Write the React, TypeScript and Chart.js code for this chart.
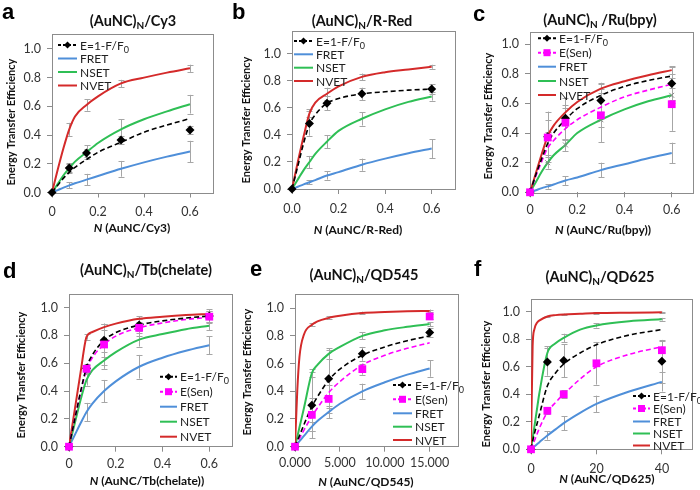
import React, { useEffect, useRef } from "react";
import { Chart, registerables } from "chart.js";
Chart.register(...registerables);

const W = 700;
const H = 490;
const FONT = "Lato, 'Open Sans', sans-serif";
const C_FRET = "#4f8fd9";
const C_NSET = "#2fbf55";
const C_NVET = "#d42a2a";
const C_MAG = "#ff00ff";
const C_BAR = "#a6a6a6";
const C_AXIS = "#8c8c8c";
const Y_AXIS_W = 40;
const X_AXIS_H = 30;

const yTickValues = [0, 0.2, 0.4, 0.6, 0.8, 1.0];
const yTickLabels = ["0.0", "0.2", "0.4", "0.6", "0.8", "1.0"];

// ---------- panel a : (AuNC)N/Cy3 ----------
const aCurveX = [0, 0.025, 0.05, 0.075, 0.1, 0.15, 0.2, 0.3, 0.4, 0.5, 0.6];
const aFret = [0, 0.017, 0.034, 0.05, 0.064, 0.09, 0.115, 0.165, 0.21, 0.25, 0.285];
const aNset = [0, 0.06, 0.12, 0.17, 0.215, 0.28, 0.345, 0.44, 0.51, 0.565, 0.615];
const aNvet = [0, 0.16, 0.31, 0.44, 0.53, 0.61, 0.67, 0.76, 0.8, 0.835, 0.865];
const aEFit = [0, 0.05, 0.1, 0.14, 0.175, 0.23, 0.28, 0.35, 0.42, 0.47, 0.515];
const aBarX = [0.075, 0.15, 0.3, 0.6];
const aFretErr = [0.02, 0.04, 0.055, 0.075];
const aNsetErr = [0.035, 0.05, 0.07, 0.065];
const aNvetErr = [0.045, 0.04, 0.025, 0.025];
const aEX = [0, 0.075, 0.15, 0.3, 0.6];
const aEY = [0, 0.17, 0.275, 0.365, 0.435];
const aEErr = [0, 0.03, 0.03, 0.03, 0.03];
const aXTicks = [0, 0.2, 0.4, 0.6];
const aXTickLabels = ["0", "0.2", "0.4", "0.6"];

// ---------- panel b : (AuNC)N/R-Red ----------
const bCurveX = [0, 0.025, 0.05, 0.075, 0.1, 0.15, 0.2, 0.3, 0.4, 0.5, 0.6];
const bFret = [0, 0.017, 0.034, 0.05, 0.066, 0.1, 0.125, 0.18, 0.225, 0.265, 0.3];
const bNset = [0, 0.07, 0.14, 0.2, 0.26, 0.35, 0.43, 0.52, 0.59, 0.645, 0.685];
const bNvet = [0, 0.2, 0.39, 0.56, 0.64, 0.705, 0.76, 0.83, 0.865, 0.885, 0.905];
const bEFit = [0, 0.17, 0.34, 0.48, 0.55, 0.635, 0.67, 0.705, 0.72, 0.732, 0.74];
const bBarX = [0.075, 0.15, 0.3, 0.6];
const bFretErr = [0.015, 0.03, 0.045, 0.07];
const bNsetErr = [0.045, 0.05, 0.05, 0.03];
const bNvetErr = [0.03, 0.045, 0.025, 0.015];
const bEX = [0, 0.075, 0.15, 0.3, 0.6];
const bEY = [0, 0.485, 0.635, 0.705, 0.74];
const bEErr = [0, 0.09, 0.05, 0.045, 0.035];
const bXTicks = [0, 0.2, 0.4, 0.6];
const bXTickLabels = ["0.0", "0.2", "0.4", "0.6"];

// ---------- panel c : (AuNC)N/Ru(bpy) ----------
const cCurveX = [0, 0.025, 0.05, 0.075, 0.1, 0.15, 0.2, 0.3, 0.4, 0.5, 0.6];
const cFret = [0, 0.014, 0.028, 0.04, 0.053, 0.08, 0.1, 0.15, 0.19, 0.23, 0.265];
const cNset = [0, 0.07, 0.14, 0.2, 0.25, 0.32, 0.4, 0.49, 0.56, 0.615, 0.655];
const cNvet = [0, 0.13, 0.26, 0.38, 0.45, 0.54, 0.61, 0.7, 0.75, 0.79, 0.825];
const cEFit = [0, 0.12, 0.23, 0.33, 0.4, 0.49, 0.565, 0.655, 0.715, 0.755, 0.785];
const cSenFit = [0, 0.11, 0.21, 0.3, 0.35, 0.43, 0.49, 0.575, 0.645, 0.69, 0.73];
const cBarX = [0.075, 0.15, 0.3, 0.6];
const cFretErr = [0.015, 0.03, 0.05, 0.07];
const cNsetErr = [0.04, 0.04, 0.05, 0.05];
const cNvetErr = [0.03, 0.03, 0.03, 0.025];
const cEX = [0, 0.075, 0.15, 0.3, 0.6];
const cEY = [0, 0.375, 0.5, 0.62, 0.735];
const cEErr = [0, 0.17, 0.14, 0.12, 0.11];
const cSenX = [0, 0.075, 0.15, 0.3, 0.6];
const cSenY = [0, 0.37, 0.47, 0.52, 0.595];
const cSenErr = [0, 0.12, 0.12, 0.18, 0.18];
const cXTicks = [0, 0.2, 0.4, 0.6];
const cXTickLabels = ["0", "0.2", "0.4", "0.6"];

// ---------- panel d : (AuNC)N/Tb(chelate) ----------
const dCurveX = [0, 0.025, 0.05, 0.075, 0.1, 0.15, 0.2, 0.3, 0.4, 0.5, 0.6];
const dFret = [0, 0.085, 0.17, 0.25, 0.31, 0.4, 0.47, 0.575, 0.64, 0.69, 0.73];
const dNset = [0, 0.17, 0.34, 0.48, 0.55, 0.62, 0.68, 0.77, 0.81, 0.845, 0.87];
const dNvet = [0, 0.27, 0.54, 0.79, 0.825, 0.86, 0.885, 0.92, 0.935, 0.947, 0.955];
const dEFit = [0, 0.2, 0.4, 0.57, 0.66, 0.765, 0.82, 0.875, 0.905, 0.925, 0.94];
const dSenFit = [0, 0.2, 0.39, 0.555, 0.64, 0.735, 0.795, 0.855, 0.89, 0.915, 0.93];
const dBarX = [0.075, 0.15, 0.3, 0.6];
const dFretErr = [0.065, 0.08, 0.085, 0.065];
const dNsetErr = [0.04, 0.06, 0.05, 0.03];
const dNvetErr = [0.02, 0.02, 0.02, 0.02];
const dEX = [0, 0.075, 0.15, 0.3, 0.6];
const dEY = [0, 0.565, 0.765, 0.875, 0.94];
const dEErr = [0, 0.03, 0.12, 0.04, 0.05];
const dSenX = [0, 0.075, 0.15, 0.3, 0.6];
const dSenY = [0, 0.56, 0.735, 0.855, 0.935];
const dSenErr = [0, 0.03, 0.15, 0.06, 0.04];
const dXTicks = [0, 0.2, 0.4, 0.6];
const dXTickLabels = ["0", "0.2", "0.4", "0.6"];

// ---------- panel e : (AuNC)N/QD545 ----------
const eCurveX = [0, 0.25, 0.5, 1, 1.875, 2.5, 3.75, 5, 7.5, 10, 12.5, 15];
const eFret = [0, 0.02, 0.04, 0.078, 0.145, 0.185, 0.25, 0.31, 0.4, 0.465, 0.52, 0.565];
const eNset = [0, 0.07, 0.14, 0.28, 0.53, 0.59, 0.67, 0.72, 0.8, 0.84, 0.865, 0.885];
const eNvet = [0, 0.4, 0.65, 0.81, 0.88, 0.905, 0.93, 0.945, 0.965, 0.972, 0.977, 0.98];
const eEFit = [0, 0.04, 0.08, 0.16, 0.29, 0.36, 0.48, 0.56, 0.66, 0.72, 0.765, 0.8];
const eSenFit = [0, 0.03, 0.06, 0.12, 0.22, 0.28, 0.39, 0.47, 0.59, 0.66, 0.71, 0.75];
const eBarX = [1.875, 3.75, 7.5, 15];
const eFretErr = [0.03, 0.045, 0.055, 0.06];
const eNsetErr = [0.03, 0.04, 0.025, 0.015];
const eNvetErr = [0.01, 0.01, 0.01, 0.01];
const eEX = [0, 1.875, 3.75, 7.5, 15];
const eEY = [0, 0.3, 0.49, 0.67, 0.825];
const eEErr = [0, 0.24, 0.21, 0.05, 0.03];
const eSenX = [0, 1.875, 3.75, 7.5, 15];
const eSenY = [0, 0.23, 0.345, 0.56, 0.94];
const eSenErr = [0, 0.12, 0.1, 0.04, 0.02];
const eXTicks = [0, 5, 10, 15];
const eXTickLabels = ["0.000", "5.000", "10.000", "15.000"];

// ---------- panel f : (AuNC)N/QD625 ----------
const fCurveX = [0, 0.5, 1, 2, 2.5, 5, 7.5, 10, 15, 20, 30, 40];
const fFret = [0, 0.01, 0.02, 0.04, 0.05, 0.1, 0.145, 0.19, 0.265, 0.33, 0.42, 0.49];
const fNset = [0, 0.08, 0.16, 0.32, 0.4, 0.7, 0.77, 0.81, 0.87, 0.9, 0.93, 0.945];
const fNvet = [0, 0.75, 0.87, 0.925, 0.935, 0.965, 0.975, 0.98, 0.985, 0.99, 0.993, 0.995];
const fEFit = [0, 0.06, 0.11, 0.2, 0.245, 0.46, 0.555, 0.62, 0.7, 0.76, 0.83, 0.87];
const fSenFit = [0, 0.03, 0.06, 0.12, 0.15, 0.27, 0.34, 0.4, 0.51, 0.6, 0.69, 0.745];
const fBarX = [5, 10, 20, 40];
const fFretErr = [0.03, 0.05, 0.06, 0.07];
const fNsetErr = [0.05, 0.03, 0.015, 0.01];
const fNvetErr = [0.005, 0.005, 0.005, 0.005];
const fEX = [0, 5, 10, 40];
const fEY = [0, 0.635, 0.645, 0.64];
const fEErr = [0, 0.1, 0.12, 0.155];
const fSenX = [0, 5, 10, 20, 40];
const fSenY = [0, 0.28, 0.4, 0.625, 0.72];
const fSenErr = [0, 0.02, 0.03, 0.155, 0.07];
const fXTicks = [0, 20, 40];
const fXTickLabels = ["0", "20", "40"];

interface PanelDef {
  letter: string;
  letterPos: [number, number];
  titleParts: [string, string, string];
  titlePos: [number, number];
  xTitle: string;
  xTitlePos: [number, number];
  yTitlePos: [number, number];
  box: [number, number, number, number];
  xMax: number;
  yMax: number;
  xTicks: number[];
  xTickLabels: string[];
  xLabelCenter: number;
  curveX: number[];
  fret: number[];
  nset: number[];
  nvet: number[];
  eFit: number[];
  senFit?: number[];
  barX: number[];
  fretErr: number[];
  nsetErr: number[];
  nvetErr: number[];
  eX: number[];
  eY: number[];
  eErr: number[];
  senX?: number[];
  senY?: number[];
  senErr?: number[];
  nsetMarks?: boolean;
  legend: { x0: number; x1: number; tx: number; rows: number[] };
}

const PANELS: PanelDef[] = [
  {
    letter: "a", letterPos: [2, 19], titleParts: ["(AuNC)", "N", "/Cy3"], titlePos: [133, 26],
    xTitle: " (AuNC/Cy3)", xTitlePos: [132, 232], yTitlePos: [11, 122],
    box: [52, 34, 213, 192.5], xMax: 0.7, yMax: 1.104,
    xTicks: aXTicks, xTickLabels: aXTickLabels, xLabelCenter: 211.5,
    curveX: aCurveX, fret: aFret, nset: aNset, nvet: aNvet, eFit: aEFit,
    barX: aBarX, fretErr: aFretErr, nsetErr: aNsetErr, nvetErr: aNvetErr,
    eX: aEX, eY: aEY, eErr: aEErr,
    legend: { x0: 58, x1: 77, tx: 80, rows: [45, 58.5, 72, 85.5] },
  },
  {
    letter: "b", letterPos: [232, 19], titleParts: ["(AuNC)", "N", "/R-Red"], titlePos: [362, 26],
    xTitle: " (AuNC/R-Red)", xTitlePos: [358, 234], yTitlePos: [246, 120],
    box: [292, 31, 455, 189], xMax: 0.7, yMax: 1.17,
    xTicks: bXTicks, xTickLabels: bXTickLabels, xLabelCenter: 208,
    curveX: bCurveX, fret: bFret, nset: bNset, nvet: bNvet, eFit: bEFit,
    barX: bBarX, fretErr: bFretErr, nsetErr: bNsetErr, nvetErr: bNvetErr,
    eX: bEX, eY: bEY, eErr: bEErr,
    legend: { x0: 294, x1: 313, tx: 316, rows: [41, 54.3, 67.7, 81] },
  },
  {
    letter: "c", letterPos: [473, 21], titleParts: ["(AuNC)", "N", " /Ru(bpy)"], titlePos: [600, 25],
    xTitle: " (AuNC/Ru(bpy))", xTitlePos: [603, 234], yTitlePos: [488, 116],
    box: [530, 31.5, 693, 192.3], xMax: 0.69, yMax: 1.086,
    xTicks: cXTicks, xTickLabels: cXTickLabels, xLabelCenter: 209,
    curveX: cCurveX, fret: cFret, nset: cNset, nvet: cNvet, eFit: cEFit, senFit: cSenFit,
    barX: cBarX, fretErr: cFretErr, nsetErr: cNsetErr, nvetErr: cNvetErr,
    eX: cEX, eY: cEY, eErr: cEErr, senX: cSenX, senY: cSenY, senErr: cSenErr,
    nsetMarks: true,
    legend: { x0: 538, x1: 556, tx: 559, rows: [38.3, 52.7, 66.7, 81, 95] },
  },
  {
    letter: "d", letterPos: [3, 278], titleParts: ["(AuNC)", "N", "/Tb(chelate)"], titlePos: [146, 275],
    xTitle: " (AuNC/Tb(chelate))", xTitlePos: [147, 485], yTitlePos: [21, 375],
    box: [69, 294.3, 231.5, 446.7], xMax: 0.695, yMax: 1.096,
    xTicks: dXTicks, xTickLabels: dXTickLabels, xLabelCenter: 463,
    curveX: dCurveX, fret: dFret, nset: dNset, nvet: dNvet, eFit: dEFit, senFit: dSenFit,
    barX: dBarX, fretErr: dFretErr, nsetErr: dNsetErr, nvetErr: dNvetErr,
    eX: dEX, eY: dEY, eErr: dEErr, senX: dSenX, senY: dSenY, senErr: dSenErr,
    legend: { x0: 160, x1: 177, tx: 180, rows: [376.7, 391.7, 406.7, 421.7, 436.7] },
  },
  {
    letter: "e", letterPos: [250, 276], titleParts: ["(AuNC)", "N", "/QD545"], titlePos: [364, 280],
    xTitle: " (AuNC/QD545)", xTitlePos: [366, 486], yTitlePos: [247, 372],
    box: [295, 294.3, 457.5, 446.7], xMax: 18.1, yMax: 1.1,
    xTicks: eXTicks, xTickLabels: eXTickLabels, xLabelCenter: 462,
    curveX: eCurveX, fret: eFret, nset: eNset, nvet: eNvet, eFit: eEFit, senFit: eSenFit,
    barX: eBarX, fretErr: eFretErr, nsetErr: eNsetErr, nvetErr: eNvetErr,
    eX: eEX, eY: eEY, eErr: eEErr, senX: eSenX, senY: eSenY, senErr: eSenErr,
    legend: { x0: 393, x1: 412, tx: 415, rows: [385, 399.3, 413.3, 426.7, 440] },
  },
  {
    letter: "f", letterPos: [474, 276], titleParts: ["(AuNC)", "N", "/QD625"], titlePos: [600, 282],
    xTitle: " (AuNC/QD625)", xTitlePos: [607, 483], yTitlePos: [486, 384],
    box: [531, 299.3, 692, 449.3], xMax: 49.2, yMax: 1.09,
    xTicks: fXTicks, xTickLabels: fXTickLabels, xLabelCenter: 468,
    curveX: fCurveX, fret: fFret, nset: fNset, nvet: fNvet, eFit: fEFit, senFit: fSenFit,
    barX: fBarX, fretErr: fFretErr, nsetErr: fNsetErr, nvetErr: fNvetErr,
    eX: fEX, eY: fEY, eErr: fEErr, senX: fSenX, senY: fSenY, senErr: fSenErr,
    legend: { x0: 633, x1: 650, tx: 653, rows: [396, 408.5, 421.5, 433.5, 445.5] },
  },
];

type Part = { t: string; font: string; dy?: number };

function drawParts(ctx: CanvasRenderingContext2D, parts: Part[], x: number, y: number, center: boolean) {
  let total = 0;
  parts.forEach((p) => {
    ctx.font = p.font;
    total += ctx.measureText(p.t).width;
  });
  let cx = center ? x - total / 2 : x;
  ctx.textAlign = "left";
  ctx.textBaseline = "alphabetic";
  parts.forEach((p) => {
    ctx.font = p.font;
    ctx.fillText(p.t, cx, y + (p.dy || 0));
    cx += ctx.measureText(p.t).width;
  });
}

function drawDiamond(ctx: CanvasRenderingContext2D, x: number, y: number, r: number, color: string) {
  ctx.beginPath();
  ctx.moveTo(x, y - r);
  ctx.lineTo(x + r, y);
  ctx.lineTo(x, y + r);
  ctx.lineTo(x - r, y);
  ctx.closePath();
  ctx.fillStyle = color;
  ctx.fill();
}

function makePlugin(p: PanelDef) {
  return {
    id: "panelDeco" + p.letter,
    beforeDatasetsDraw(chart: any) {
      const { ctx, chartArea: ca, scales } = chart;
      const xs = scales.x;
      const ys = scales.y;
      ctx.save();
      ctx.strokeStyle = C_AXIS;
      ctx.lineWidth = 1;
      ctx.strokeRect(Math.round(ca.left) + 0.5, Math.round(ca.top) + 0.5, Math.round(ca.right - ca.left), Math.round(ca.bottom - ca.top));
      const bar = (x: number, c: number, e: number) => {
        if (!(e > 0)) return;
        const px = Math.round(xs.getPixelForValue(x)) + 0.5;
        const y1 = ys.getPixelForValue(c + e);
        const y2 = ys.getPixelForValue(c - e);
        ctx.strokeStyle = C_BAR;
        ctx.lineWidth = 1;
        ctx.beginPath();
        ctx.moveTo(px, y1);
        ctx.lineTo(px, y2);
        ctx.moveTo(px - 3, Math.round(y1) + 0.5);
        ctx.lineTo(px + 3, Math.round(y1) + 0.5);
        ctx.moveTo(px - 3, Math.round(y2) + 0.5);
        ctx.lineTo(px + 3, Math.round(y2) + 0.5);
        ctx.stroke();
      };
      p.barX.forEach((bx, i) => {
        const k = p.curveX.indexOf(bx);
        bar(bx, p.fret[k], p.fretErr[i]);
        bar(bx, p.nset[k], p.nsetErr[i]);
        bar(bx, p.nvet[k], p.nvetErr[i]);
      });
      p.eX.forEach((x, i) => bar(x, p.eY[i], p.eErr[i]));
      if (p.senX && p.senY && p.senErr) {
        const sy = p.senY;
        const se = p.senErr;
        p.senX.forEach((x, i) => bar(x, sy[i], se[i]));
      }
      ctx.restore();
    },
    afterDraw(chart: any) {
      const ctx: CanvasRenderingContext2D = chart.ctx;
      ctx.save();
      ctx.fillStyle = "#000";
      ctx.font = "bold 22px 'Liberation Sans', Arial, sans-serif";
      ctx.textAlign = "left";
      ctx.textBaseline = "alphabetic";
      ctx.fillText(p.letter, p.letterPos[0], p.letterPos[1]);
      ctx.fillStyle = "#111";
      drawParts(
        ctx,
        [
          { t: p.titleParts[0], font: `bold 14.5px ${FONT}` },
          { t: p.titleParts[1], font: `bold 10px ${FONT}`, dy: 3 },
          { t: p.titleParts[2], font: `bold 14.5px ${FONT}` },
        ],
        p.titlePos[0], p.titlePos[1], true
      );
      drawParts(
        ctx,
        [
          { t: "N", font: `italic bold 12px ${FONT}` },
          { t: p.xTitle, font: `bold 12px ${FONT}` },
        ],
        p.xTitlePos[0], p.xTitlePos[1], true
      );
      ctx.save();
      ctx.translate(p.yTitlePos[0], p.yTitlePos[1]);
      ctx.rotate(-Math.PI / 2);
      ctx.font = `bold 11px ${FONT}`;
      ctx.textAlign = "center";
      ctx.textBaseline = "middle";
      ctx.fillText("Energy Transfer Efficiency", 0, 0);
      ctx.restore();
      const items: { parts: Part[]; color: string; dash: number[]; marker?: "diamond" | "square" }[] = [];
      const lf = `12px ${FONT}`;
      items.push({ parts: [{ t: "E=1-F/F", font: lf }, { t: "0", font: `9px ${FONT}`, dy: 3 }], color: "#000", dash: [3, 2], marker: "diamond" });
      if (p.senFit) items.push({ parts: [{ t: "E(Sen)", font: lf }], color: C_MAG, dash: [3, 2], marker: "square" });
      items.push({ parts: [{ t: "FRET", font: lf }], color: C_FRET, dash: [] });
      items.push({ parts: [{ t: "NSET", font: lf }], color: C_NSET, dash: [] });
      items.push({ parts: [{ t: "NVET", font: lf }], color: C_NVET, dash: [] });
      const L = p.legend;
      items.forEach((it, i) => {
        const y = L.rows[i];
        ctx.strokeStyle = it.color;
        ctx.lineWidth = 2;
        ctx.setLineDash(it.dash);
        ctx.beginPath();
        ctx.moveTo(L.x0, y);
        ctx.lineTo(L.x1, y);
        ctx.stroke();
        ctx.setLineDash([]);
        const mx = (L.x0 + L.x1) / 2;
        if (it.marker === "diamond") drawDiamond(ctx, mx, y, 3.5, "#000");
        if (it.marker === "square") {
          ctx.fillStyle = C_MAG;
          ctx.fillRect(mx - 3.5, y - 3.5, 7, 7);
        }
        ctx.fillStyle = "#222";
        drawParts(ctx, it.parts, L.tx, y + 4.5, false);
      });
      ctx.restore();
    },
  };
}

function buildConfig(p: PanelDef): any {
  const pts = (xs: number[], ys: number[]) => xs.map((x, i) => ({ x, y: ys[i] }));
  const line = (data: { x: number; y: number }[], color: string, dash: number[] = [], width = 2) => ({
    data,
    borderColor: color,
    borderWidth: width,
    borderDash: dash,
    pointRadius: 0,
    fill: false,
    cubicInterpolationMode: "monotone",
    showLine: true,
  });
  const datasets: any[] = [];
  if (p.senX && p.senY) {
    datasets.push({
      data: pts(p.senX, p.senY), showLine: false, pointStyle: "rect", pointRadius: 5.5,
      pointBackgroundColor: C_MAG, pointBorderColor: C_MAG, pointBorderWidth: 0, clip: false,
    });
  }
  datasets.push({
    data: pts(p.eX, p.eY), showLine: false, pointStyle: "rectRot", pointRadius: 4.5,
    pointBackgroundColor: "#000", pointBorderColor: "#000", pointBorderWidth: 0, clip: false,
  });
  if (p.nsetMarks) {
    datasets.push({
      data: p.barX.map((bx) => ({ x: bx, y: p.nset[p.curveX.indexOf(bx)] })), showLine: false,
      pointStyle: "crossRot", pointRadius: 3.5, pointBorderColor: "#8a8a8a", pointBorderWidth: 1, clip: false,
    });
  }
  datasets.push(line(pts(p.curveX, p.eFit), "#000", [5, 3], 1.6));
  if (p.senFit) datasets.push(line(pts(p.curveX, p.senFit), C_MAG, [5, 3], 1.6));
  datasets.push(line(pts(p.curveX, p.nvet), C_NVET));
  datasets.push(line(pts(p.curveX, p.nset), C_NSET));
  datasets.push(line(pts(p.curveX, p.fret), C_FRET));

  const [L, T, R, B] = p.box;
  const xPad = Math.max(0, p.xLabelCenter - B - 5 - 7);
  return {
    type: "line",
    data: { datasets },
    plugins: [makePlugin(p)],
    options: {
      responsive: false,
      animation: false,
      devicePixelRatio: 1,
      events: [],
      layout: { padding: { left: L - Y_AXIS_W, top: T, right: W - R, bottom: H - B - X_AXIS_H } },
      plugins: { legend: { display: false }, tooltip: { enabled: false }, title: { display: false } },
      scales: {
        x: {
          type: "linear",
          min: 0,
          max: p.xMax,
          afterFit: (s: any) => { s.height = X_AXIS_H; },
          afterBuildTicks: (s: any) => { s.ticks = p.xTicks.map((v) => ({ value: v })); },
          ticks: {
            callback: (_v: any, i: number) => p.xTickLabels[i],
            font: { family: FONT, size: 12.5 },
            color: "#333",
            padding: xPad,
            maxRotation: 0,
            autoSkip: false,
          },
          grid: { display: true, drawOnChartArea: false, drawTicks: true, tickLength: 5, color: C_AXIS },
          border: { display: false },
        },
        y: {
          type: "linear",
          min: 0,
          max: p.yMax,
          afterFit: (s: any) => { s.width = Y_AXIS_W; },
          afterBuildTicks: (s: any) => { s.ticks = yTickValues.map((v) => ({ value: v })); },
          ticks: {
            callback: (_v: any, i: number) => yTickLabels[i],
            font: { family: FONT, size: 12.5 },
            color: "#333",
            padding: 6,
            autoSkip: false,
          },
          grid: { display: true, drawOnChartArea: false, drawTicks: true, tickLength: 5, color: C_AXIS },
          border: { display: false },
        },
      },
    },
  };
}

function PanelCanvas({ p }: { p: PanelDef }) {
  const ref = useRef<HTMLCanvasElement | null>(null);
  useEffect(() => {
    if (!ref.current) return;
    const chart = new Chart(ref.current, buildConfig(p));
    return () => chart.destroy();
  }, [p]);
  return (
    <canvas
      ref={ref}
      width={W}
      height={H}
      style={{ position: "absolute", left: 0, top: 0, width: W, height: H }}
    />
  );
}

export default function App() {
  return (
    <div style={{ position: "absolute", left: 0, top: 0, width: W, height: H, background: "#fff", overflow: "hidden" }}>
      {PANELS.map((p) => (
        <PanelCanvas key={p.letter} p={p} />
      ))}
    </div>
  );
}
